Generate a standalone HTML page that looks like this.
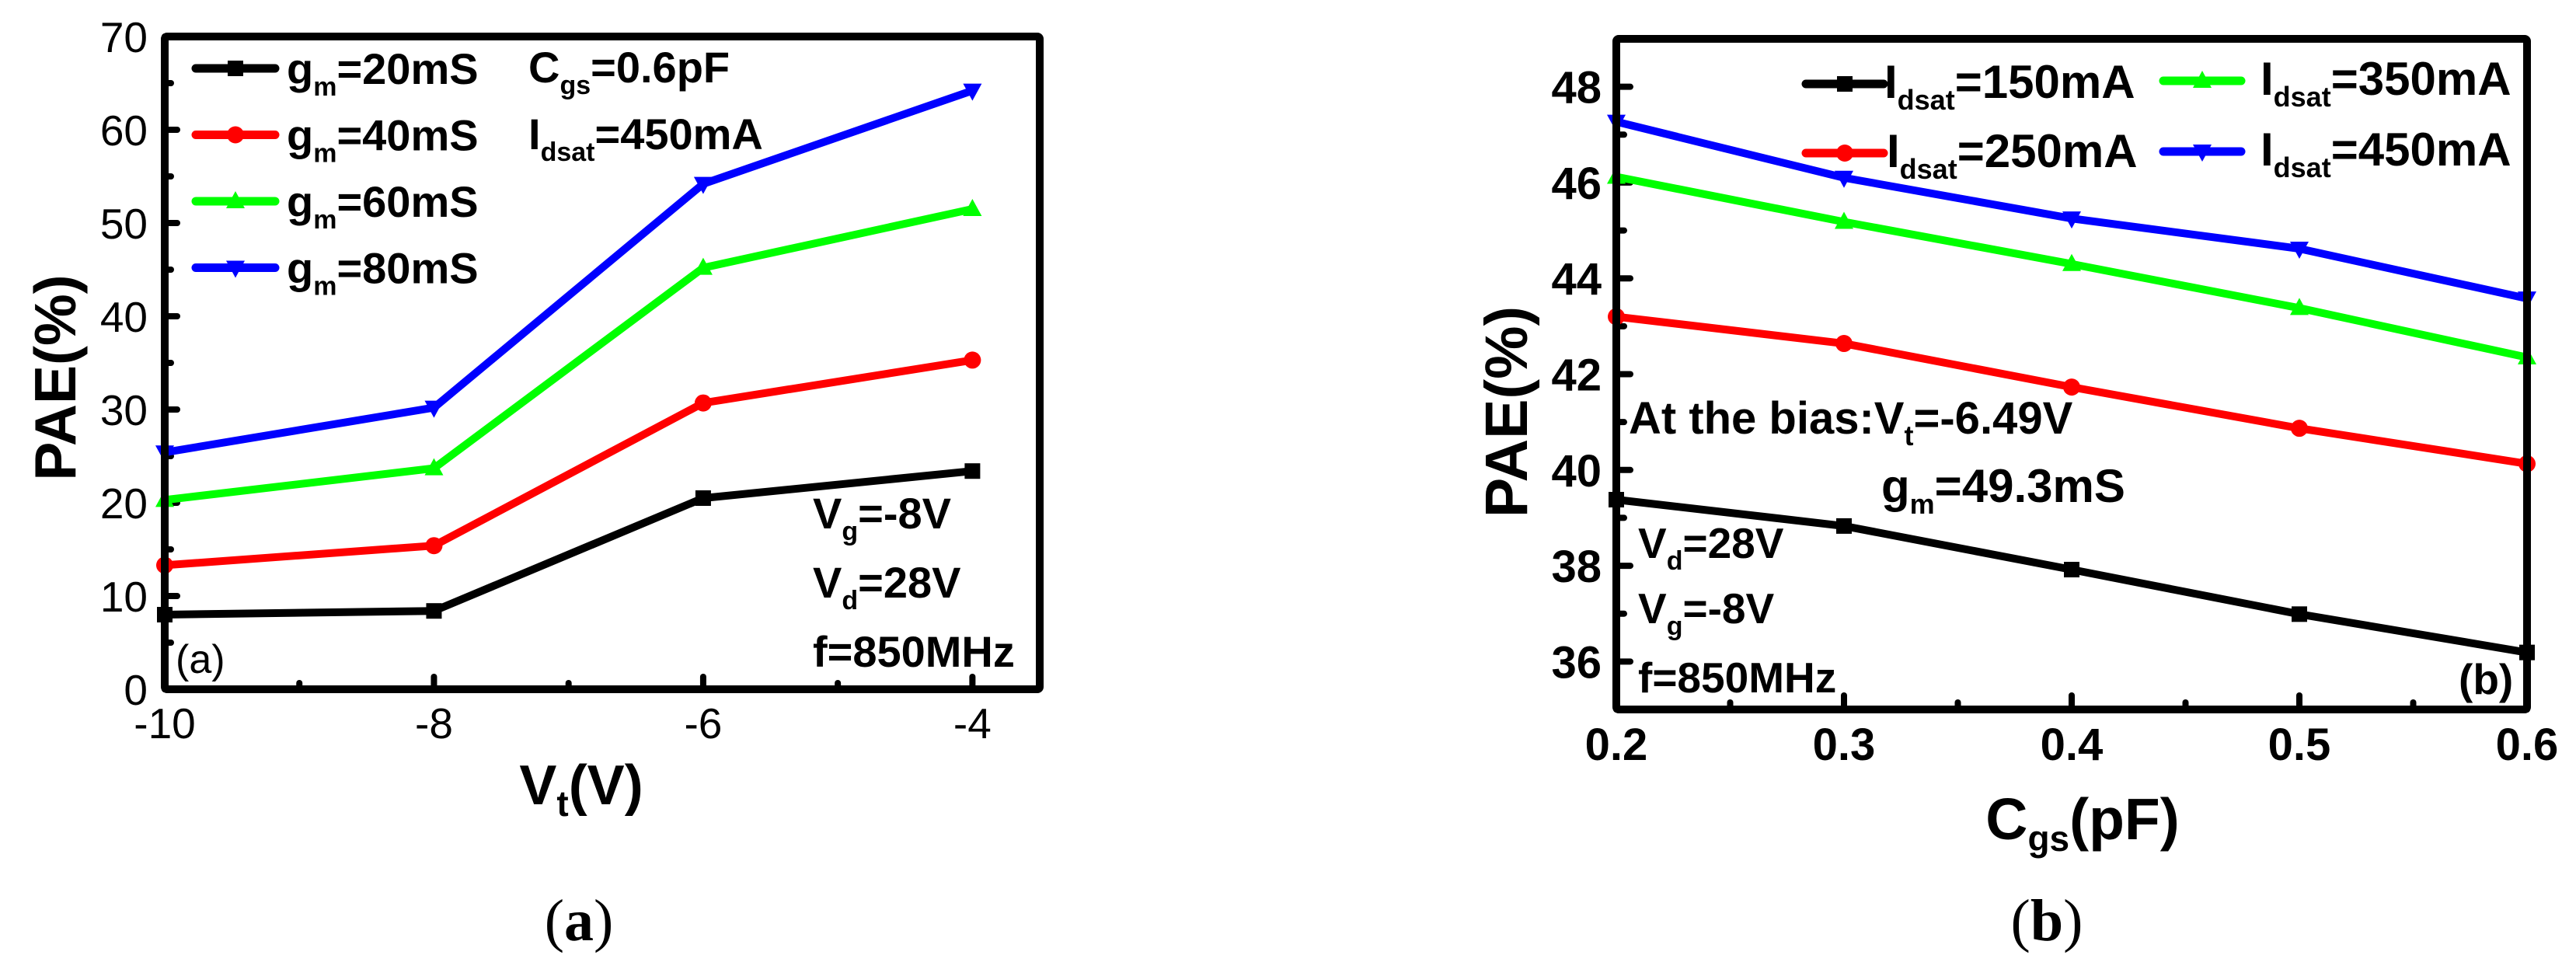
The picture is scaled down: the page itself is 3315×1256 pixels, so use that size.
<!DOCTYPE html>
<html><head><meta charset="utf-8"><style>
html,body{margin:0;padding:0;background:#fff;}
svg{display:block;}
text{font-family:"Liberation Sans",Arial,sans-serif;}
</style></head><body>
<svg id="s" width="3315" height="1256" viewBox="0 0 3315 1256" xmlns="http://www.w3.org/2000/svg"></svg>
<script>
// ---- Panel (a) data ----
const vtValues = [-10, -8, -6, -4];
const gm20 = [8.0, 8.4, 20.5, 23.4];
const gm40 = [13.3, 15.4, 30.7, 35.3];
const gm60 = [20.3, 23.7, 45.2, 51.5];
const gm80 = [25.4, 30.2, 54.2, 64.2];
const aYTicks = [0, 10, 20, 30, 40, 50, 60, 70];
const aXTicks = [-10, -8, -6, -4];
const aXTickLabels = ["-10", "-8", "-6", "-4"];
// ---- Panel (b) data ----
const cgsValues = [0.2, 0.3, 0.4, 0.5, 0.6];
const idsat150 = [39.38, 38.83, 37.92, 36.99, 36.19];
const idsat250 = [43.2, 42.64, 41.73, 40.87, 40.13];
const idsat350 = [46.12, 45.18, 44.3, 43.38, 42.35];
const idsat450 = [47.27, 46.1, 45.25, 44.62, 43.58];
const bYTicks = [36, 38, 40, 42, 44, 46, 48];
const bXTicks = [0.2, 0.3, 0.4, 0.5, 0.6];
const bXTickLabels = ["0.2", "0.3", "0.4", "0.5", "0.6"];

const NS = "http://www.w3.org/2000/svg";
const svg = document.getElementById('s');
function mk(tag, attrs, parent) {
  const e = document.createElementNS(NS, tag);
  for (const k in attrs) e.setAttribute(k, attrs[k]);
  (parent || svg).appendChild(e);
  return e;
}
function txt(parent, x, y, html, size, weight, anchor, extra) {
  const t = mk('text', Object.assign({x: x, y: y, 'font-size': size, 'font-weight': weight || 'normal', 'text-anchor': anchor || 'start'}, extra || {}), parent);
  t.innerHTML = html;
  return t;
}
function marker(g, shape, x, y, color) {
  let m;
  if (shape === 'square') m = mk('rect', {x: x - 10, y: y - 10, width: 20, height: 20, fill: color}, g);
  else if (shape === 'circle') m = mk('circle', {cx: x, cy: y, r: 11, fill: color}, g);
  else if (shape === 'up') m = mk('polygon', {points: `${x},${y - 13} ${x - 12},${y + 9} ${x + 12},${y + 9}`, fill: color}, g);
  else m = mk('polygon', {points: `${x},${y + 13} ${x - 12},${y - 9} ${x + 12},${y - 9}`, fill: color}, g);
  return m;
}
function sub(main, s, subSize) {
  return `${main}<tspan dy="15" font-size="${subSize}">${s}</tspan><tspan dy="-15">`;
}

// ================= Panel (a) =================
const A = {x0: 212, x1: 1338, y0: 47, y1: 887, xmin: -10, xmax: -3.5, ymin: 0, ymax: 70};
const ax = v => A.x0 + (v - A.xmin) / (A.xmax - A.xmin) * (A.x1 - A.x0);
const ay = v => A.y1 - (v - A.ymin) / (A.ymax - A.ymin) * (A.y1 - A.y0);
const ga = mk('g', {});



aYTicks.forEach(v => {
  const l = mk('line', {x1: A.x0, x2: A.x0 + 16, y1: ay(v), y2: ay(v), stroke: '#000', 'stroke-width': 8, 'stroke-linecap': 'round'}, ga);
  
  
  const t = txt(ga, 190, ay(v) + 20, String(v), 55, 'normal', 'end');
  
  
  if (v < 70) {
    const m = mk('line', {x1: A.x0, x2: A.x0 + 8, y1: ay(v + 5), y2: ay(v + 5), stroke: '#000', 'stroke-width': 8, 'stroke-linecap': 'round'}, ga);
    
    
  }
});
aXTicks.forEach((v, i) => {
  const l = mk('line', {x1: ax(v), x2: ax(v), y1: A.y1, y2: A.y1 - 16, stroke: '#000', 'stroke-width': 8, 'stroke-linecap': 'round'}, ga);
  
  
  const t = txt(ga, ax(v), 950, aXTickLabels[i], 55, 'normal', 'middle');
  
  
  if (v < -4) {
    const m = mk('line', {x1: ax(v + 1), x2: ax(v + 1), y1: A.y1, y2: A.y1 - 8, stroke: '#000', 'stroke-width': 8, 'stroke-linecap': 'round'}, ga);
    
    
  }
});

const aSeries = [
  {vals: gm20, color: '#000', shape: 'square', label: '20mS', name: 'series-gm20'},
  {vals: gm40, color: '#ff0000', shape: 'circle', label: '40mS', name: 'series-gm40'},
  {vals: gm60, color: '#00ff00', shape: 'up', label: '60mS', name: 'series-gm60'},
  {vals: gm80, color: '#0000ff', shape: 'down', label: '80mS', name: 'series-gm80'}
];
aSeries.forEach((s, si) => {
  const g = mk('g', {}, ga);
  
  
  const pts = s.vals.map((v, i) => `${ax(vtValues[i])},${ay(v)}`).join(' ');
  mk('polyline', {points: pts, fill: 'none', stroke: s.color, 'stroke-width': 10, 'stroke-linejoin': 'round'}, g);
  s.vals.forEach((v, i) => {
    const m = marker(g, s.shape, ax(vtValues[i]), ay(v), s.color);
    
    
  });
  const ly = 88 + si * 85.5;
  const lg = mk('g', {}, ga);
  
  
  mk('line', {x1: 252, x2: 354, y1: ly, y2: ly, stroke: s.color, 'stroke-width': 11, 'stroke-linecap': 'round'}, lg);
  marker(lg, s.shape, 303, ly, s.color);
  txt(lg, 369, ly + 20, sub('g', 'm', 34) + '=' + s.label + '</tspan>', 56, 'bold', 'start');
});

const fa = mk('rect', {x: A.x0, y: A.y0, width: A.x1 - A.x0, height: A.y1 - A.y0, fill: 'none', stroke: '#000', 'stroke-width': 10, rx: 3}, ga);



const annA = [
  [680, 106, sub('C', 'gs', 34) + '=0.6pF</tspan>'],
  [680, 192, sub('I', 'dsat', 34) + '=450mA</tspan>'],
  [1046, 680, sub('V', 'g', 34) + '=-8V</tspan>'],
  [1046, 769, sub('V', 'd', 34) + '=28V</tspan>'],
  [1046, 858, 'f=850MHz']
];
annA.forEach(a => {
  const t = txt(ga, a[0], a[1], a[2], 56, 'bold', 'start');
  
  
});
let t;
t = txt(ga, 226, 866, '(a)', 52, 'normal', 'start');
 
t = txt(ga, 0, 0, 'PAE(%)', 75, 'bold', 'middle', {transform: 'translate(97 486) rotate(-90)'});
 
t = txt(ga, 748, 1035, sub('V', 't', 46) + '(V)</tspan>', 72, 'bold', 'middle');
 
t = mk('text', {x: 745, y: 1210, 'font-size': 76, 'text-anchor': 'middle', style: 'font-family:"Liberation Serif",serif'}, ga);
t.innerHTML = '(<tspan font-weight="bold">a</tspan>)';
 

// ================= Panel (b) =================
const B = {x0: 2080, x1: 3252, y0: 50, y1: 913, xmin: 0.2, xmax: 0.6, ymin: 35, ymax: 49};
const bx = v => B.x0 + (v - B.xmin) / (B.xmax - B.xmin) * (B.x1 - B.x0);
const by = v => B.y1 - (v - B.ymin) / (B.ymax - B.ymin) * (B.y1 - B.y0);
const gb = mk('g', {});



bYTicks.forEach(v => {
  const l = mk('line', {x1: B.x0, x2: B.x0 + 18, y1: by(v), y2: by(v), stroke: '#000', 'stroke-width': 8, 'stroke-linecap': 'round'}, gb);
  
  
  const tt = txt(gb, 2061, by(v) + 21, String(v), 58, 'bold', 'end');
  
  
});
[37, 39, 41, 43, 45, 47].forEach(v => {
  const m = mk('line', {x1: B.x0, x2: B.x0 + 10, y1: by(v), y2: by(v), stroke: '#000', 'stroke-width': 8, 'stroke-linecap': 'round'}, gb);
  
  
});
bXTicks.forEach((v, i) => {
  const l = mk('line', {x1: bx(v), x2: bx(v), y1: B.y1, y2: B.y1 - 18, stroke: '#000', 'stroke-width': 8, 'stroke-linecap': 'round'}, gb);
  
  
  const tt = txt(gb, bx(v), 978, bXTickLabels[i], 58, 'bold', 'middle');
  
  
  if (i < bXTicks.length - 1) {
    const mv = v + 0.05;
    const m = mk('line', {x1: bx(mv), x2: bx(mv), y1: B.y1, y2: B.y1 - 9, stroke: '#000', 'stroke-width': 8, 'stroke-linecap': 'round'}, gb);
    
    
  }
});

const bSeries = [
  {vals: idsat150, color: '#000', shape: 'square', label: '150mA', name: 'series-idsat150', lx: 2324, ly: 108, tx: 2425},
  {vals: idsat250, color: '#ff0000', shape: 'circle', label: '250mA', name: 'series-idsat250', lx: 2324, ly: 197, tx: 2428},
  {vals: idsat350, color: '#00ff00', shape: 'up', label: '350mA', name: 'series-idsat350', lx: 2784, ly: 104, tx: 2909},
  {vals: idsat450, color: '#0000ff', shape: 'down', label: '450mA', name: 'series-idsat450', lx: 2784, ly: 195, tx: 2909}
];
bSeries.forEach(s => {
  const g = mk('g', {}, gb);
  
  
  const pts = s.vals.map((v, i) => `${bx(cgsValues[i])},${by(v)}`).join(' ');
  mk('polyline', {points: pts, fill: 'none', stroke: s.color, 'stroke-width': 10, 'stroke-linejoin': 'round'}, g);
  s.vals.forEach((v, i) => {
    const m = marker(g, s.shape, bx(cgsValues[i]), by(v), s.color);
    
    
  });
  const lg = mk('g', {}, gb);
  
  
  mk('line', {x1: s.lx, x2: s.lx + 100, y1: s.ly, y2: s.ly, stroke: s.color, 'stroke-width': 11, 'stroke-linecap': 'round'}, lg);
  marker(lg, s.shape, s.lx + 50, s.ly, s.color);
  txt(lg, s.tx, s.ly + 18, sub('I', 'dsat', 36) + '=' + s.label + '</tspan>', 60, 'bold', 'start');
});

const fb = mk('rect', {x: B.x0, y: B.y0, width: B.x1 - B.x0, height: B.y1 - B.y0, fill: 'none', stroke: '#000', 'stroke-width': 10, rx: 3}, gb);



const annB = [
  [2096, 558, 'At the bias:' + sub('V', 't', 36) + '=-6.49V</tspan>', 58],
  [2421, 646, sub('g', 'm', 36) + '=49.3mS</tspan>', 60],
  [2108, 718, sub('V', 'd', 34) + '=28V</tspan>', 55],
  [2108, 802, sub('V', 'g', 34) + '=-8V</tspan>', 55],
  [2108, 891, 'f=850MHz', 55]
];
annB.forEach(a => {
  const tt = txt(gb, a[0], a[1], a[2], a[3], 'bold', 'start');
  
  
});
t = txt(gb, 3164, 893, '(b)', 55, 'bold', 'start');
 
t = txt(gb, 0, 0, 'PAE(%)', 77, 'bold', 'middle', {transform: 'translate(1965 530) rotate(-90)'});
 
t = txt(gb, 2680, 1080, sub('C', 'gs', 46) + '(pF)</tspan>', 75, 'bold', 'middle');
 
t = mk('text', {x: 2634, y: 1210, 'font-size': 76, 'text-anchor': 'middle', style: 'font-family:"Liberation Serif",serif'}, gb);
t.innerHTML = '(<tspan font-weight="bold">b</tspan>)';
 
</script>
</body></html>
